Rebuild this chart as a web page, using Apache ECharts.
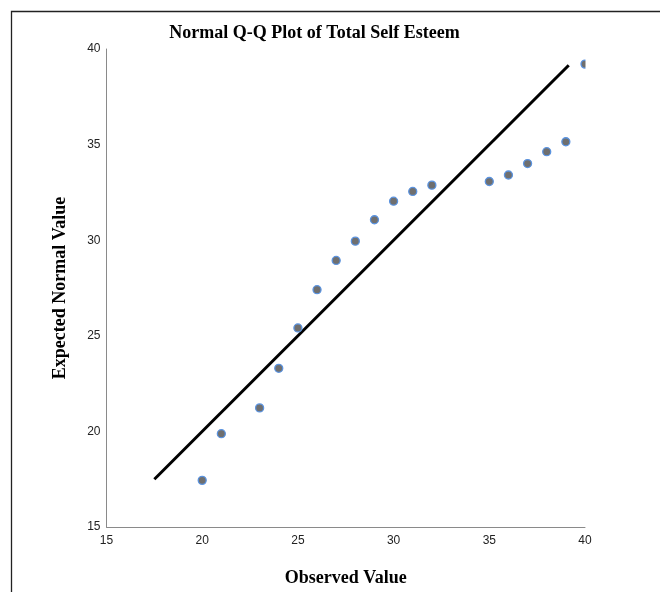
<!DOCTYPE html>
<html>
<head>
<meta charset="utf-8">
<script src="https://cdn.jsdelivr.net/npm/echarts@6/dist/echarts.min.js"></script>
<style>
html,body{margin:0;padding:0;background:#fff;}
#chart{width:660px;height:592px;}
</style>
</head>
<body>
<div id="chart"></div>
<script>
const observed = [20, 21, 23, 24, 25, 26, 27, 28, 29, 30, 31, 32, 35, 36, 37, 38, 39, 40];
const expected = [17.44, 19.88, 21.23, 23.30, 25.41, 27.41, 28.94, 29.95, 31.07, 32.04, 32.55, 32.88, 33.07, 33.41, 34.01, 34.63, 35.15, 39.21];
const refLineX = [17.5, 39.15];
const refLineY = [17.5, 39.15];
const axisMin = 15, axisMax = 40, axisStep = 5;
const titleText = 'Normal Q-Q Plot of Total Self Esteem';
const xName = 'Observed Value';
const yName = 'Expected Normal Value';

const chart = echarts.init(document.getElementById('chart'), null, {renderer: 'canvas'});
const serif = '"Liberation Serif", "DejaVu Serif", serif';
const sans = '"Liberation Sans", Arial, sans-serif';

chart.setOption({
  animation: false,
  backgroundColor: '#fff',
  graphic: [
    {
      type: 'rect', silent: true, z: 1,
      shape: {x: 11.5, y: 11.5, width: 700, height: 700},
      style: {fill: 'none', stroke: '#222', lineWidth: 1.3}
    },
    {
      type: 'rect', silent: true, z: 100,
      shape: {x: 585.5, y: 40, width: 80, height: 40},
      style: {fill: '#fff', stroke: 'none'}
    },
    {
      type: 'text', silent: true, z: 100,
      x: 314.5, y: 33.5,
      style: {
        text: titleText, textAlign: 'center', textVerticalAlign: 'middle',
        fontFamily: serif, fontWeight: 'bold', fontSize: 18, fill: '#000'
      }
    }
  ],
  grid: {left: 106.5, right: 75, top: 49, bottom: 58.5},
  xAxis: {
    type: 'value', min: axisMin, max: axisMax, interval: axisStep,
    name: xName, nameLocation: 'middle', nameGap: 42,
    nameTextStyle: {fontFamily: serif, fontWeight: 'bold', fontSize: 18, color: '#000'},
    axisLine: {lineStyle: {color: '#8a8a8a', width: 1}},
    axisTick: {show: false},
    splitLine: {show: false},
    axisLabel: {fontFamily: sans, fontSize: 12, color: '#222', margin: 8}
  },
  yAxis: {
    type: 'value', min: axisMin, max: axisMax, interval: axisStep,
    name: yName, nameLocation: 'middle', nameGap: 37,
    nameTextStyle: {fontFamily: serif, fontWeight: 'bold', fontSize: 18, color: '#000'},
    axisLine: {show: true, lineStyle: {color: '#8a8a8a', width: 1}},
    axisTick: {show: false},
    splitLine: {show: false},
    axisLabel: {fontFamily: sans, fontSize: 12, color: '#222', margin: 6}
  },
  series: [
    {
      type: 'line',
      data: refLineX.map((x, i) => [x, refLineY[i]]),
      symbol: 'none',
      lineStyle: {color: '#000', width: 3},
      z: 2
    },
    {
      type: 'scatter',
      data: observed.map((x, i) => [x, expected[i]]),
      symbolSize: 8,
      clip: true,
      itemStyle: {color: '#6f6f6f', borderColor: '#5a93e0', borderWidth: 1.3, opacity: 1},
      z: 3
    }
  ]
});
</script>
</body>
</html>
